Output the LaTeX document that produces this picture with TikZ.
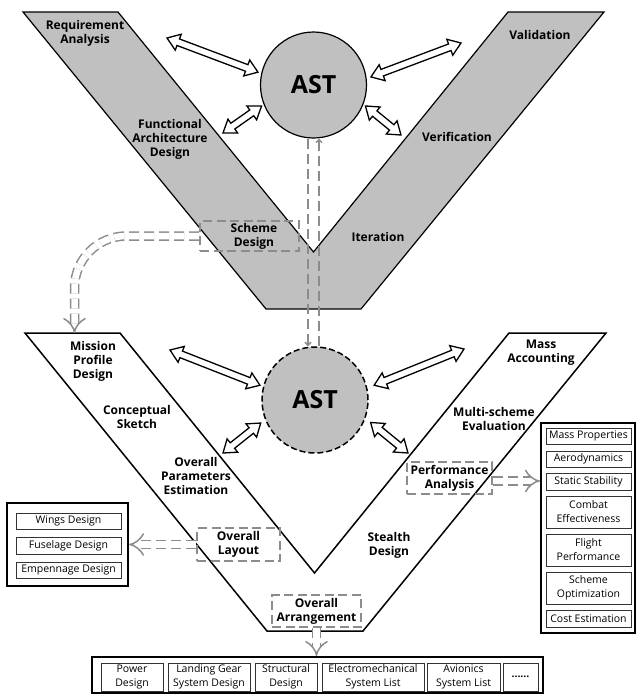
\documentclass[tikz,border=0pt]{standalone}
\usepackage{fontspec}
\setmainfont{Open Sans}
\usetikzlibrary{arrows.meta,calc}

\definecolor{vgray}{RGB}{192,192,192}
\definecolor{dgray}{RGB}{140,140,140}

% hollow block arrow with a head at both ends
\newcommand\fatarrow[2]{%
  \filldraw[fatarr] (#1)
    -- ($(#1)!12pt!(#2)!8.5pt!90:(#2)$)
    -- ($(#1)!12pt!(#2)!3.5pt!90:(#2)$)
    -- ($(#2)!12pt!(#1)!3.5pt!-90:(#1)$)
    -- ($(#2)!12pt!(#1)!8.5pt!-90:(#1)$)
    -- (#2)
    -- ($(#2)!12pt!(#1)!8.5pt!90:(#1)$)
    -- ($(#2)!12pt!(#1)!3.5pt!90:(#1)$)
    -- ($(#1)!12pt!(#2)!3.5pt!-90:(#2)$)
    -- ($(#1)!12pt!(#2)!8.5pt!-90:(#2)$)
    -- cycle;}

\begin{document}
\begin{tikzpicture}[x=1pt,y=-1pt,
  lab/.style={font=\bfseries\fontsize{12}{14}\selectfont, align=center, inner sep=0pt},
  astnode/.style={circle, fill=vgray, draw=black, minimum size=106pt, inner sep=0pt,
    font=\bfseries\fontsize{25}{30}\selectfont},
  fatarr/.style={fill=white, draw=black, line width=1.3pt, line join=miter},
  dbox/.style={draw=dgray, line width=1.6pt, dash pattern=on 9pt off 4.5pt,
    inner sep=0pt, align=center, font=\bfseries\fontsize{12}{14}\selectfont},
  group/.style={draw=black, line width=2pt, inner sep=0pt},
  item/.style={draw=black!80, line width=0.8pt, inner sep=0pt, align=center,
    font=\fontsize{10.5}{14}\selectfont},
  conn/.style={draw=dgray, line width=1.5pt, double=white, double distance=6.5pt,
    dash pattern=on 10pt off 5pt},
  dline/.style={draw=dgray, line width=1.5pt, dash pattern=on 10pt off 5pt}]
\useasboundingbox (0,0) rectangle (636,694);

% upper V (grey)
\filldraw[fill=vgray, draw=black, line width=1.2pt, line join=miter]
  (23,12) -- (118,12) -- (313.5,252) -- (508,12) -- (604,12)
  -- (361,309) -- (266,309) -- cycle;

% lower V (white)
\filldraw[fill=white, draw=black, line width=1.5pt, line join=miter]
  (25,333) -- (120,333) -- (314.5,573) -- (509,333) -- (606,333)
  -- (363,631) -- (267,631) -- cycle;

% AST circles
\node[astnode, line width=1.2pt] (ast1) at (313.5,85) {AST};
\node[astnode, line width=1.5pt, dash pattern=on 6pt off 3pt] (ast2) at (315,400) {AST};

% labels on the upper V
\node[lab] (req)   at (85,33.5)  {Requirement\\Analysis};
\node[lab] (func)  at (170,139)  {Functional\\Architecture\\Design};
\node[dbox, minimum width=99pt, minimum height=30pt] (schemebox) at (249.5,236) {};
\node[lab] (scheme) at (254,236) {Scheme\\Design};
\node[lab] (valid) at (540,35)   {Validation};
\node[lab] (verif) at (457,137)  {Verification};
\node[lab] (iter)  at (378,237)  {Iteration};

% labels on the lower V
\node[lab] (mission)  at (93,361)   {Mission\\Profile\\Design};
\node[lab] (concept)  at (137,417)  {Conceptual\\Sketch};
\node[lab] (params)   at (196,476)  {Overall\\Parameters\\Estimation};
\node[dbox, minimum width=83pt, minimum height=33pt] (layout) at (238.5,544.5) {Overall\\Layout};
\node[lab] (mass)     at (541,353)  {Mass\\Accounting};
\node[lab] (multi)    at (494,419)  {Multi-scheme\\Evaluation};
\node[dbox, minimum width=85pt, minimum height=32pt] (perf) at (449.5,478) {Performance\\Analysis};
\node[lab] (stealth)  at (389,545)  {Stealth\\Design};
\node[dbox, minimum width=89pt, minimum height=32pt] (arrange) at (316.5,611) {Overall\\Arrangement};

% left group
\node[group, minimum width=121pt, minimum height=83pt] (leftgroup) at (67.5,544.5) {};
\node[item, minimum width=105pt, minimum height=16pt] (wings) at (68.5,521)   {Wings Design};
\node[item, minimum width=105pt, minimum height=17pt] (fus)   at (68.5,545.5) {Fuselage Design};
\node[item, minimum width=105pt, minimum height=16pt] (emp)   at (68.5,570)   {Empennage Design};

% right group
\node[group, minimum width=94pt, minimum height=210pt] (rightgroup) at (588,528) {};
\node[item, minimum width=85pt, minimum height=16pt] (mprop) at (588.5,436)   {Mass Properties};
\node[item, minimum width=85pt, minimum height=16pt] (aero)  at (588.5,459)   {Aerodynamics};
\node[item, minimum width=85pt, minimum height=17pt] (stat)  at (588.5,481.5) {Static Stability};
\node[item, minimum width=85pt, minimum height=32pt] (combat) at (588.5,512)  {Combat\\Effectiveness};
\node[item, minimum width=85pt, minimum height=32pt] (flight) at (588.5,550)  {Flight\\Performance};
\node[item, minimum width=85pt, minimum height=32pt] (opt)   at (588.5,588)   {Scheme\\Optimization};
\node[item, minimum width=85pt, minimum height=17pt] (cost)  at (588.5,618.5) {Cost Estimation};

% bottom group
\node[group, minimum width=451pt, minimum height=36pt] (bottomgroup) at (317.5,675) {};
\node[item, minimum width=62pt,  minimum height=28pt] (power)  at (132,677)   {Power\\Design};
\node[item, minimum width=82pt,  minimum height=28pt] (gear)   at (209,677)   {Landing Gear\\System Design};
\node[item, minimum width=62pt,  minimum height=28pt] (struct) at (286,677)   {Structural\\Design};
\node[item, minimum width=102pt, minimum height=28pt] (elec)   at (373,677)   {Electromechanical\\System List};
\node[item, minimum width=73pt,  minimum height=28pt] (avio)   at (463.5,677) {Avionics\\System List};
\node[item, minimum width=35pt,  minimum height=28pt, font=\bfseries\fontsize{10.5}{14}\selectfont] (more) at (520.5,677) {......};

% end points of the block arrows
\coordinate (a1o) at (167,38);   \coordinate (a1i) at ($(ast1.center)+(167:57pt)$);
\coordinate (a2o) at (223,133);  \coordinate (a2i) at ($(ast1.center)+(202:56pt)$);
\coordinate (a3o) at (461,43);   \coordinate (a3i) at ($(ast1.center)+(8:58pt)$);
\coordinate (a4o) at (401,135);  \coordinate (a4i) at ($(ast1.center)+(-22:56pt)$);
\coordinate (b1o) at (170,350);  \coordinate (b1i) at ($(ast2.center)+(165:57pt)$);
\coordinate (b2o) at (223,453);  \coordinate (b2i) at ($(ast2.center)+(203:59pt)$);
\coordinate (b3o) at (464,349);  \coordinate (b3i) at ($(ast2.center)+(14:61pt)$);
\coordinate (b4o) at (408,453);  \coordinate (b4i) at ($(ast2.center)+(-22:60pt)$);

\fatarrow{a1o}{a1i}
\fatarrow{a2o}{a2i}
\fatarrow{a3i}{a3o}
\fatarrow{a4i}{a4o}
\fatarrow{b1o}{b1i}
\fatarrow{b2o}{b2i}
\fatarrow{b3i}{b3o}
\fatarrow{b4i}{b4o}

% dashed links
\coordinate (mpdtop) at (74.5,333);
\draw[conn, -{Implies}, rounded corners=52pt] (schemebox.west) -| (mpdtop);

\draw[dline, -{Straight Barb[length=3pt,width=6pt]}]
  ([xshift=-5.5pt]ast1.south) -- ([xshift=-5.5pt]ast1.south |- ast2.north);
\draw[dline, -{Straight Barb[length=3pt,width=6pt]}]
  ([xshift=5.5pt]ast1.south |- ast2.north) -- ([xshift=5.5pt]ast1.south);

\draw[conn, -{Implies}] (layout.west) -- (leftgroup.east);
\draw[conn, -{Implies}] ([yshift=-3pt]perf.east) -- ([yshift=-3pt]perf.east -| rightgroup.west);
\draw[conn, -{Implies}] (arrange.south) -- (arrange.south |- bottomgroup.north);

\end{tikzpicture}
\end{document}
